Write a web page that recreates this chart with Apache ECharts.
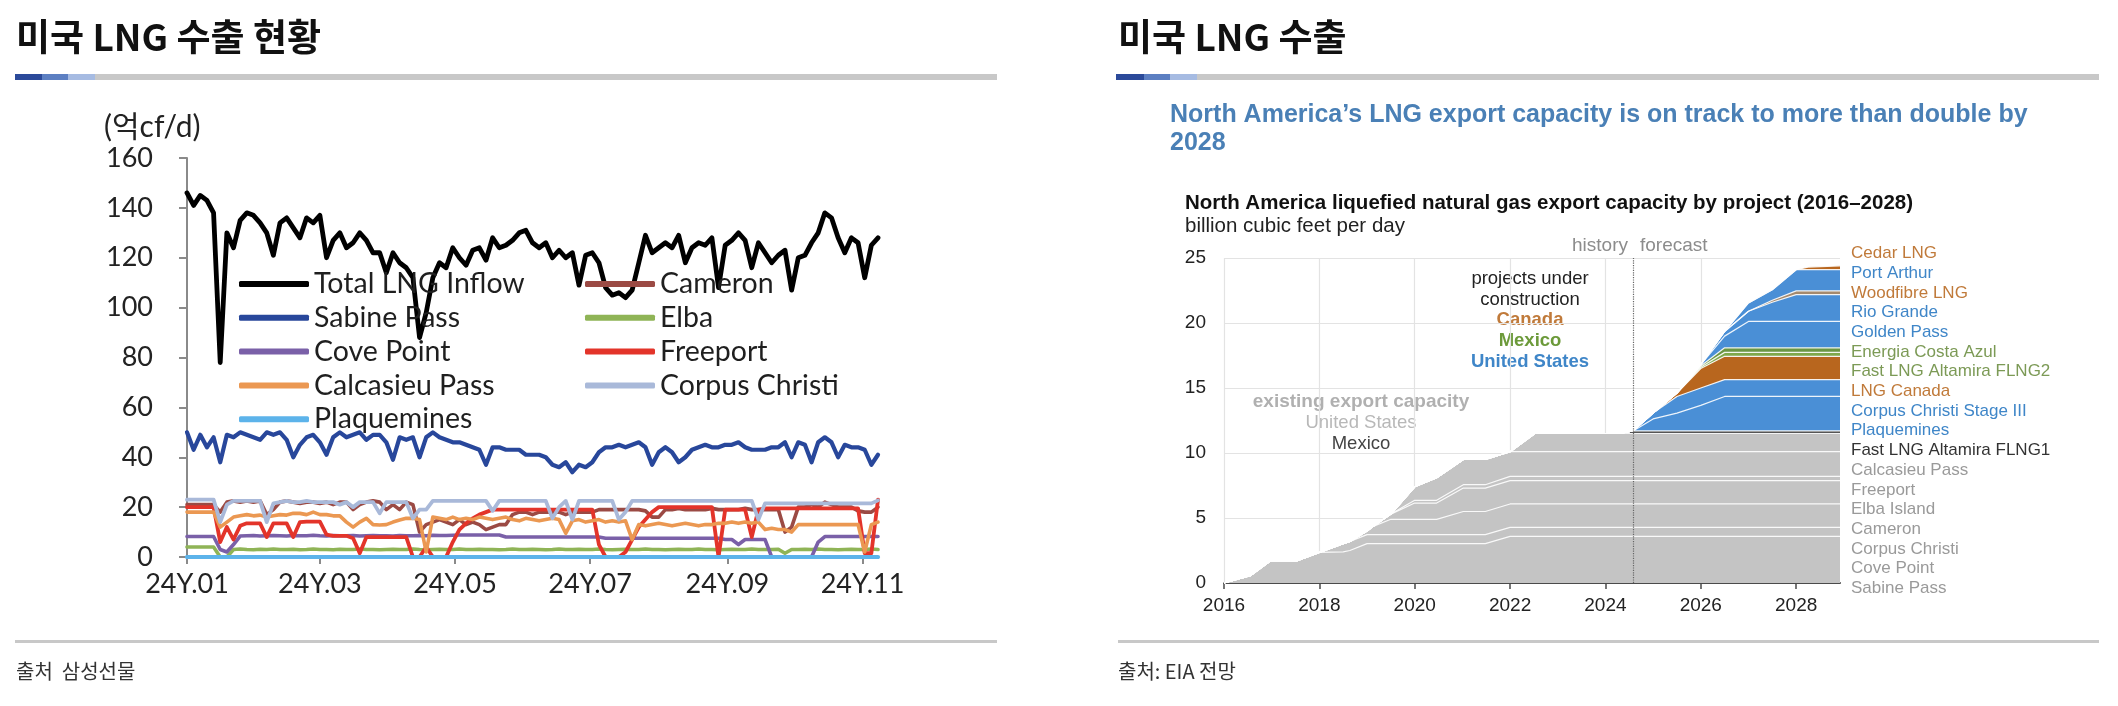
<!DOCTYPE html>
<html><head><meta charset="utf-8">
<script src="https://cdn.jsdelivr.net/npm/echarts@6/dist/echarts.min.js"></script>
<style>html,body{margin:0;padding:0;background:#fff}#c{width:2118px;height:706px}</style>
</head><body><div id="c"></div>
<script>
// ================= LEFT CHART DATA (sampled every 3 days from 2024-01-01) =================
const firstDay = [2024, 0, 1];
const dayStep = 3;
const tickMonths = [0, 2, 4, 6, 8, 10];
const tickLabels = ['24Y.01', '24Y.03', '24Y.05', '24Y.07', '24Y.09', '24Y.11'];

const totalLngInflow = [
146,141,145,143,138,78,130,124,135,138,137,134,130,121,134,
136,132,128,136,134,137,120,127,130,124,126,130,127,122,122,
114,122,118,116,112,88,98,112,118,116,124,120,117,123,124,
119,128,124,125,127,130,131,126,124,126,120,123,120,122,109,
121,122,118,108,105,106,104,107,118,129,122,124,126,124,129,
118,124,126,125,128,108,125,127,130,127,116,126,122,118,121,
123,107,120,121,126,130,138,136,128,122,128,126,112,125,128];
const sabinePass = [
50,43,49,44,48,38,49,48,50,49,48,47,50,49,50,
47,40,45,48,49,46,41,48,50,48,49,50,47,49,49,
46,39,48,47,48,40,48,50,48,47,46,46,45,44,43,
37,44,44,43,43,43,41,41,41,40,37,36,38,34,37,
36,38,42,44,44,45,44,45,46,44,37,42,44,42,38,
40,43,44,45,44,44,45,45,46,44,43,43,43,44,44,
46,40,46,45,38,46,48,46,40,45,44,44,43,37,41];
const cameron = [
21,21,21,21,21,18,22,22.5,22,22.5,22,22.5,17,19,22,
22.5,22,21.5,22,22,21.5,22,21,22,22,19,21,22,22.5,22,
19,21,19,22,21,10,13,14,15,14,13,15,13,14,13,
11,12,13,13,17,18,18,17,18,18,18,18,17,18,18,
18,18,19,19,19,19,19,19,19,18.5,16,16,19,19,19.5,
19,19,19,19,19.5,19,19,19,19,19.5,19,19,19,19,19,
10,12,20,20,21,20,22,21,20,20,20,18.5,18,18,20];
const elba = [
4,4,4,4,4,0,0,3,3.2,3,2.9,3.1,3,3.2,3,
3,3.1,2.9,3,3.2,3,3,2.9,3.1,3,3,3.2,3,3,2.9,
3,3.1,3,3,3.2,3,2.9,3,3.1,3,3,3.2,3,3,3.1,
3,3,2.9,3,3.2,3,3,3.1,3,2.9,3,3.2,3,3,3.1,
3,3,3.2,3,2.9,3,3.1,3,3,3.2,3,3,2.9,3,3.1,
3,3,3.2,3,3,2.9,3,3.1,3,3,3.2,3,3,3,3.1,
1.5,3,3,3.1,3,3.2,3,3,2.9,3,3.1,3,3,3.2,3];
const covePoint = [
8.2,8.2,8.2,8.2,8.2,3,2,5,8.4,8.5,8.6,8.4,8.5,8.6,8.5,
8.4,8.6,8.5,8.5,8.7,8.5,8.4,8.6,8.5,8.5,8.6,8.4,8.5,8.6,8.5,
8.5,8.4,8.6,8.5,8.5,8.6,8.5,8.7,8.6,8.6,8.7,8.8,8.8,8.8,8.8,
8.8,8.8,8.8,8,8,8,8,8,8,8,8,8,8,8,8,
8,8,8,7.5,7.5,7.5,7.5,7.5,7.5,7.5,7.5,7.5,7.5,7.5,7.5,
7.5,7.5,7.5,7.5,7.5,7.5,7,7,5,7,7,7,7,0,0,
0,0,0,0,0,6,8.2,8.2,8.2,8.2,8.2,8.2,8.2,8.2,8.2];
const freeport = [
20,20,20,20,20,6,12,7,12.5,13.5,13.5,13.5,8,13.5,13.5,
13.5,8,14,14.2,14.2,14.2,9,8.5,8.5,8.5,7.5,1.5,8,8,8,
8,8,8,8,0,0,4,0,0,0,6,11,13.5,15.5,17,
18,19,19,19,19,19,19,19,19,19,19,19,19,19,19,
19,19,5,0,0,0,2,7,12,15,18,20,20,20,20,
20,20,20,20,20,0,19,19,19,19,8,19,19.5,19.5,19.5,
19.5,19.5,19.5,19.5,19.5,19.5,19.5,19.5,19.5,19.5,19.5,19.5,1.5,1.5,23];
const calcasieuPass = [
18,18,18,18,18,12,14,16,16.5,17,16.5,16.8,16,16.5,17,
16.8,17.5,17.5,17,18,17,17,16.5,16.5,14,12,14,15.5,13,12.8,
13,14,14.8,15.5,15.5,15,2,16,15.5,15,16,15,15.5,15,16,
15.5,15,15.5,16,15,14.5,15.5,15,14.5,15,15.5,15,9.5,14.5,15,
14,14.5,15,14,14.5,14,14.5,7,13,12.5,13,13.5,13,12.5,13,
13.5,13,12.5,13,13,13.5,13.5,14,13.5,14,13.5,14,11,11.5,11,
11,10,13,13,13,13,13,13,13,13,13,13,2,13,14];
const corpusChristi = [
23,23,23,23,23,14,21,22.5,22.5,22.5,22.5,22.5,14,21.5,22,
22.5,22,22,22.5,22,22,22,22,21,22,20,22,22,22,17.5,
22,22,22,22,15.5,19,19,22.5,22.5,22.5,22.5,22.5,22.5,22.5,22.5,
22.5,18.5,22.5,22.5,22.5,22.5,22.5,22.5,22.5,22.5,15.5,20,22.5,15,22.5,
22.5,22.5,22.5,22.5,22.5,15,18,22.5,22.5,22.5,22.5,22.5,22.5,22.5,22.5,
22.5,22.5,22.5,22.5,22.5,22.5,22.5,22.5,22.5,22.5,22.5,15,21.5,21.5,21.5,
21.5,21.5,21.5,21.5,21.5,21.5,21.5,21.5,21.5,21.5,21.5,21.5,21.5,21.5,22.7];
const plaquemines = [
0,0,0,0,0,0,0,0,0,0,0,0,0,0,0,
0,0,0,0,0,0,0,0,0,0,0,0,0,0,0,
0,0,0,0,0,0,0,0,0,0,0,0,0,0,0,
0,0,0,0,0,0,0,0,0,0,0,0,0,0,0,
0,0,0,0,0,0,0,0,0,0,0,0,0,0,0,
0,0,0,0,0,0,0,0,0,0,0,0,0,0,0,
0,0,0,0,0,0,0,0,0,0,0,0,0,0,0];

// ================= RIGHT CHART DATA (bcf/d capacity added by each project) =================
const capYears = [2016,2016.55,2016.97,2017.52,2018,2018.5,2018.64,2019,2019.13,2019.5,2020,2020.46,2021.02,2021.48,2022,2022.52,2024.3,2024.58,2025,2025.5,2026,2026.5,2027,2027.5,2028,2028.25,2028.92];
const capTicks = [2016, 2018, 2020, 2022, 2024, 2026, 2028];
const forecastStart = 2024.58;
const capSabinePass   = [0,0.56,1.7,1.7,2.36,2.4,2.5,3.03,3.03,3.03,3.03,3.03,3.03,3.03,3.59,3.59,3.59,3.59,3.59,3.59,3.59,3.59,3.59,3.59,3.59,3.59,3.59];
const capCovePoint    = [0,0,0,0,0,0.63,0.7,0.69,0.69,0.69,0.69,0.69,0.69,0.69,0.69,0.69,0.69,0.69,0.69,0.69,0.69,0.69,0.69,0.69,0.69,0.69,0.69];
const capCorpus       = [0,0,0,0,0,0,0,0.28,0.64,1.18,1.18,1.18,1.78,1.78,1.8,1.8,1.8,1.8,1.8,1.8,1.8,1.8,1.8,1.8,1.8,1.8,1.8];
const capCameron      = [0,0,0,0,0,0,0,0,0,0.4,1.25,1.25,1.8,1.8,1.79,1.79,1.79,1.79,1.79,1.79,1.79,1.79,1.79,1.79,1.79,1.79,1.79];
const capElba         = [0,0,0,0,0,0,0,0,0,0,0.21,0.21,0.26,0.26,0.33,0.33,0.33,0.33,0.33,0.33,0.33,0.33,0.33,0.33,0.33,0.33,0.33];
const capFreeport     = [0,0,0,0,0,0,0,0,0,0,1.04,1.74,1.94,1.94,1.9,1.9,1.9,1.9,1.9,1.9,1.9,1.9,1.9,1.9,1.9,1.9,1.9];
const capCalcasieu    = [0,0,0,0,0,0,0,0,0,0,0,0,0,0,0,1.4,1.4,1.4,1.4,1.4,1.4,1.4,1.4,1.4,1.4,1.4,1.4];
const capFlng1        = [0,0,0,0,0,0,0,0,0,0,0,0,0,0,0,0,0,0.2,0.2,0.2,0.2,0.2,0.2,0.2,0.2,0.2,0.2];
const capPlaquemines  = [0,0,0,0,0,0,0,0,0,0,0,0,0,0,0,0,0,0,0.92,1.37,1.96,2.65,2.65,2.65,2.65,2.65,2.65];
const capCorpusIII    = [0,0,0,0,0,0,0,0,0,0,0,0,0,0,0,0,0,0,0.45,1.28,1.34,1.29,1.29,1.29,1.29,1.29,1.29];
const capLngCanada    = [0,0,0,0,0,0,0,0,0,0,0,0,0,0,0,0,0,0,0,0.26,1.5,1.8,1.8,1.8,1.8,1.8,1.8];
const capFlng2        = [0,0,0,0,0,0,0,0,0,0,0,0,0,0,0,0,0,0,0,0,0.1,0.3,0.3,0.3,0.3,0.3,0.3];
const capCostaAzul    = [0,0,0,0,0,0,0,0,0,0,0,0,0,0,0,0,0,0,0,0,0.1,0.35,0.35,0.35,0.35,0.35,0.35];
const capGoldenPass   = [0,0,0,0,0,0,0,0,0,0,0,0,0,0,0,0,0,0,0,0,0.1,0.9,2.03,2.03,2.03,2.03,2.03];
const capRioGrande    = [0,0,0,0,0,0,0,0,0,0,0,0,0,0,0,0,0,0,0,0,0,0.36,0.78,1.48,2.06,2.06,2.06];
const capWoodfibre    = [0,0,0,0,0,0,0,0,0,0,0,0,0,0,0,0,0,0,0,0,0,0,0,0.15,0.29,0.29,0.29];
const capPortArthur   = [0,0,0,0,0,0,0,0,0,0,0,0,0,0,0,0,0,0,0,0,0,0,0.64,0.81,1.63,1.63,1.63];
const capCedar        = [0,0,0,0,0,0,0,0,0,0,0,0,0,0,0,0,0,0,0,0,0,0,0,0,0,0.2,0.3];

// ================= BUILD =================
const DAY = 86400000;
const t0 = new Date(firstDay[0], firstDay[1], firstDay[2]).getTime();
const dayOf = (y, m, d) => Math.round((new Date(y, m, d).getTime() - t0) / DAY);
const sampleDays = totalLngInflow.map((v, i) => i * dayStep);
const tickDays = tickMonths.map(m => dayOf(2024, m, 1));
const pairs = arr => arr.map((v, i) => [sampleDays[i], v]);

const KFONT = 'Lato, "Noto Sans CJK KR", sans-serif';
const AFONT = '"Liberation Sans", Arial, sans-serif';
const HFONT = '"Noto Sans CJK KR", sans-serif';

const leftSeriesDefs = [
  {name: 'Total LNG Inflow', data: totalLngInflow, color: '#000000', w: 4.8},
  {name: 'Cameron', data: cameron, color: '#9b4a44', w: 3.6},
  {name: 'Sabine Pass', data: sabinePass, color: '#28479b', w: 4.2},
  {name: 'Elba', data: elba, color: '#8fb456', w: 3.6},
  {name: 'Cove Point', data: covePoint, color: '#7a60a8', w: 3.6},
  {name: 'Freeport', data: freeport, color: '#e3342a', w: 3.8},
  {name: 'Calcasieu Pass', data: calcasieuPass, color: '#eb9852', w: 3.6},
  {name: 'Corpus Christi', data: corpusChristi, color: '#a9b9d9', w: 3.8},
  {name: 'Plaquemines', data: plaquemines, color: '#5cb3ea', w: 4.2}
];

const GRAY = '#c4c4c4', BLUE = '#4a8fd6', ORANGE = '#b8661e', GREEN1 = '#7fa84a', GREEN2 = '#6b9642';
// bottom -> top of the stack
const rightSeriesDefs = [
  {name: 'Sabine Pass', data: capSabinePass, color: GRAY},
  {name: 'Cove Point', data: capCovePoint, color: GRAY},
  {name: 'Corpus Christi', data: capCorpus, color: GRAY},
  {name: 'Cameron', data: capCameron, color: GRAY},
  {name: 'Elba Island', data: capElba, color: GRAY},
  {name: 'Freeport', data: capFreeport, color: GRAY},
  {name: 'Calcasieu Pass', data: capCalcasieu, color: GRAY},
  {name: 'Fast LNG Altamira FLNG1', data: capFlng1, color: '#555555'},
  {name: 'Plaquemines', data: capPlaquemines, color: BLUE},
  {name: 'Corpus Christi Stage III', data: capCorpusIII, color: BLUE},
  {name: 'LNG Canada', data: capLngCanada, color: ORANGE},
  {name: 'Fast LNG Altamira FLNG2', data: capFlng2, color: GREEN1},
  {name: 'Energia Costa Azul', data: capCostaAzul, color: GREEN2},
  {name: 'Golden Pass', data: capGoldenPass, color: BLUE},
  {name: 'Rio Grande', data: capRioGrande, color: BLUE},
  {name: 'Woodfibre LNG', data: capWoodfibre, color: '#a58a6e'},
  {name: 'Port Arthur', data: capPortArthur, color: BLUE},
  {name: 'Cedar LNG', data: capCedar, color: ORANGE}
];
const rightLabelColors = {
  'Cedar LNG': '#c07a3a', 'Port Arthur': '#3f86c8', 'Woodfibre LNG': '#c07a3a', 'Rio Grande': '#3f86c8',
  'Golden Pass': '#3f86c8', 'Energia Costa Azul': '#7c9a56', 'Fast LNG Altamira FLNG2': '#7c9a56',
  'LNG Canada': '#c07a3a', 'Corpus Christi Stage III': '#3f86c8', 'Plaquemines': '#3f86c8',
  'Fast LNG Altamira FLNG1': '#333333'
};

// cumulative tops of the stack (the library is given the stacked totals)
const cumulative = [];
rightSeriesDefs.forEach((d, k) => {
  cumulative.push(d.data.map((v, i) => v + (k > 0 ? cumulative[k - 1][i] : 0)));
});

const series = [];
leftSeriesDefs.forEach(d => series.push({
  name: d.name, type: 'line', xAxisIndex: 0, yAxisIndex: 0, data: pairs(d.data),
  symbol: 'none', showSymbol: false, color: d.color,
  lineStyle: {color: d.color, width: d.w, cap: 'round', join: 'round'}
}));
// draw from the top band down so each lower band paints over the upper band's fill
for (let k = rightSeriesDefs.length - 1; k >= 0; k--) {
  const d = rightSeriesDefs[k];
  const s = {
    name: d.name, type: 'line', xAxisIndex: 1, yAxisIndex: 1,
    data: cumulative[k].map((v, i) => [capYears[i], +v.toFixed(3)]),
    symbol: 'none', showSymbol: false, color: d.color,
    lineStyle: {color: '#ffffff', width: 1.2, opacity: 0.9},
    areaStyle: {color: d.color, opacity: 1, origin: 'start'}
  };
  if (k === 0) {
    s.markLine = {silent: true, symbol: ['none', 'none'], label: {show: false},
      lineStyle: {type: 'dotted', color: '#666', width: 1.2}, data: [{xAxis: forecastStart}]};
  }
  series.push(s);
}

const legendLeftNames = ['Total LNG Inflow', 'Sabine Pass', 'Cove Point', 'Calcasieu Pass', 'Plaquemines'];
const legendRightNames = ['Cameron', 'Elba', 'Freeport', 'Corpus Christi'];
const legendCommon = {
  orient: 'vertical', top: 264, icon: 'roundRect', itemWidth: 70, itemHeight: 6, itemGap: 3.8,
  selectedMode: false, textStyle: {fontFamily: KFONT, fontSize: 28.5, color: '#1f1f1f', lineHeight: 30}
};
const rightLegendData = rightSeriesDefs.slice().reverse().map(d => ({
  name: d.name, textStyle: {color: rightLabelColors[d.name] || '#9a9a9a'}
}));

function txt(x, y, text, font, fill, align) {
  return {type: 'text', x: x, y: y, silent: true,
    style: {text: text, font: font, fill: fill, textAlign: align || 'left', align: align || 'left',
      textVerticalAlign: 'middle', verticalAlign: 'middle'}};
}
function rect(x, y, w, h, fill) {
  return {type: 'rect', silent: true, shape: {x: x, y: y, width: w, height: h}, style: {fill: fill}};
}

const option = {
  animation: false,
  backgroundColor: '#ffffff',
  grid: [
    {left: 187, top: 158, right: 2118 - 878, bottom: 706 - 557},
    {left: 1224, top: 258, right: 2118 - 1840, bottom: 706 - 583}
  ],
  xAxis: [
    {type: 'value', gridIndex: 0, min: 0, max: sampleDays[sampleDays.length - 1],
     axisLine: {show: true, onZero: false, lineStyle: {color: '#8a8a8a', width: 2}},
     axisTick: {show: true, length: 7, lineStyle: {color: '#8a8a8a', width: 2}, customValues: tickDays},
     axisLabel: {customValues: tickDays, fontFamily: KFONT, fontSize: 27, color: '#222', margin: 14,
       formatter: v => tickLabels[tickDays.indexOf(v)] || ''},
     splitLine: {show: false}},
    {type: 'value', gridIndex: 1, min: 2016, max: 2028.92,
     axisLine: {show: true, onZero: false, lineStyle: {color: '#4a4a4a', width: 2}},
     axisTick: {show: true, length: 6, lineStyle: {color: '#4a4a4a', width: 1.5}, customValues: capTicks},
     axisLabel: {customValues: capTicks, fontFamily: AFONT, fontSize: 19, color: '#222', margin: 13,
       formatter: v => String(v)},
     splitLine: {show: true, showMaxLine: false, lineStyle: {color: '#e3e3e3', width: 1.2}}}
  ],
  yAxis: [
    {type: 'value', gridIndex: 0, min: 0, max: 160, interval: 20,
     axisLine: {show: true, lineStyle: {color: '#8a8a8a', width: 2}},
     axisTick: {show: true, length: 8, lineStyle: {color: '#8a8a8a', width: 2}},
     axisLabel: {fontFamily: KFONT, fontSize: 27, color: '#222', margin: 34},
     splitLine: {show: false}},
    {type: 'value', gridIndex: 1, min: 0, max: 25, interval: 5,
     axisLine: {show: false}, axisTick: {show: false},
     axisLabel: {fontFamily: AFONT, fontSize: 19, color: '#222', margin: 18},
     splitLine: {show: true, lineStyle: {color: '#e3e3e3', width: 1.2}}}
  ],
  legend: [
    Object.assign({}, legendCommon, {left: 234, data: legendLeftNames}),
    Object.assign({}, legendCommon, {left: 580, data: legendRightNames}),
    {orient: 'vertical', left: 1841, top: 240, icon: 'none', itemWidth: 0, itemHeight: 16, itemGap: 2.7,
     selectedMode: false, data: rightLegendData,
     textStyle: {fontFamily: AFONT, fontSize: 17, lineHeight: 16, color: '#9a9a9a'}}
  ],
  graphic: {elements: [
    txt(16, 37, '미국 LNG 수출 현황', 'bold 37px ' + HFONT, '#111'),
    txt(1118, 37, '미국 LNG 수출', 'bold 37px ' + HFONT, '#111'),
    rect(15, 74, 27, 6, '#2b4a9a'), rect(42, 74, 26, 6, '#5c7fc2'), rect(68, 74, 27, 6, '#a6bbe2'), rect(95, 74, 902, 6, '#c8c8c8'),
    rect(1116, 74, 28, 6, '#2b4a9a'), rect(1144, 74, 26, 6, '#5c7fc2'), rect(1170, 74, 27, 6, '#a6bbe2'), rect(1197, 74, 902, 6, '#c8c8c8'),
    rect(15, 640, 982, 3, '#c8c8c8'), rect(1118, 640, 981, 3, '#c8c8c8'),
    txt(16, 671, '출처  삼성선물', '20px ' + HFONT, '#333'),
    txt(1118, 671, '출처: EIA 전망', '20px ' + HFONT, '#333'),
    txt(104, 127, '(억cf/d)', '30px ' + KFONT, '#222'),
    txt(1170, 115, 'North America’s LNG export capacity is on track to more than double by', 'bold 25px ' + AFONT, '#4a80b6'),
    txt(1170, 143, '2028', 'bold 25px ' + AFONT, '#4a80b6'),
    txt(1185, 203, 'North America liquefied natural gas export capacity by project (2016–2028)', 'bold 20.5px ' + AFONT, '#111'),
    txt(1185, 226, 'billion cubic feet per day', '20.5px ' + AFONT, '#222'),
    txt(1628, 246, 'history', '19px ' + AFONT, '#8c8c8c', 'right'),
    txt(1640, 246, 'forecast', '19px ' + AFONT, '#8c8c8c'),
    txt(1530, 279, 'projects under', '18.5px ' + AFONT, '#222', 'center'),
    txt(1530, 300, 'construction', '18.5px ' + AFONT, '#222', 'center'),
    txt(1530, 320, 'Canada', 'bold 18.5px ' + AFONT, '#c07a3a', 'center'),
    txt(1530, 341, 'Mexico', 'bold 18.5px ' + AFONT, '#6c9a3a', 'center'),
    txt(1530, 362, 'United States', 'bold 18.5px ' + AFONT, '#3f86c8', 'center'),
    txt(1361, 402, 'existing export capacity', 'bold 19px ' + AFONT, '#b0b0b0', 'center'),
    txt(1361, 423, 'United States', '18.5px ' + AFONT, '#b8b8b8', 'center'),
    txt(1361, 444, 'Mexico', '18.5px ' + AFONT, '#444', 'center')
  ]},
  series: series
};

const chart = echarts.init(document.getElementById('c'), null, {renderer: 'canvas'});
chart.setOption(option);
</script>
</body></html>
